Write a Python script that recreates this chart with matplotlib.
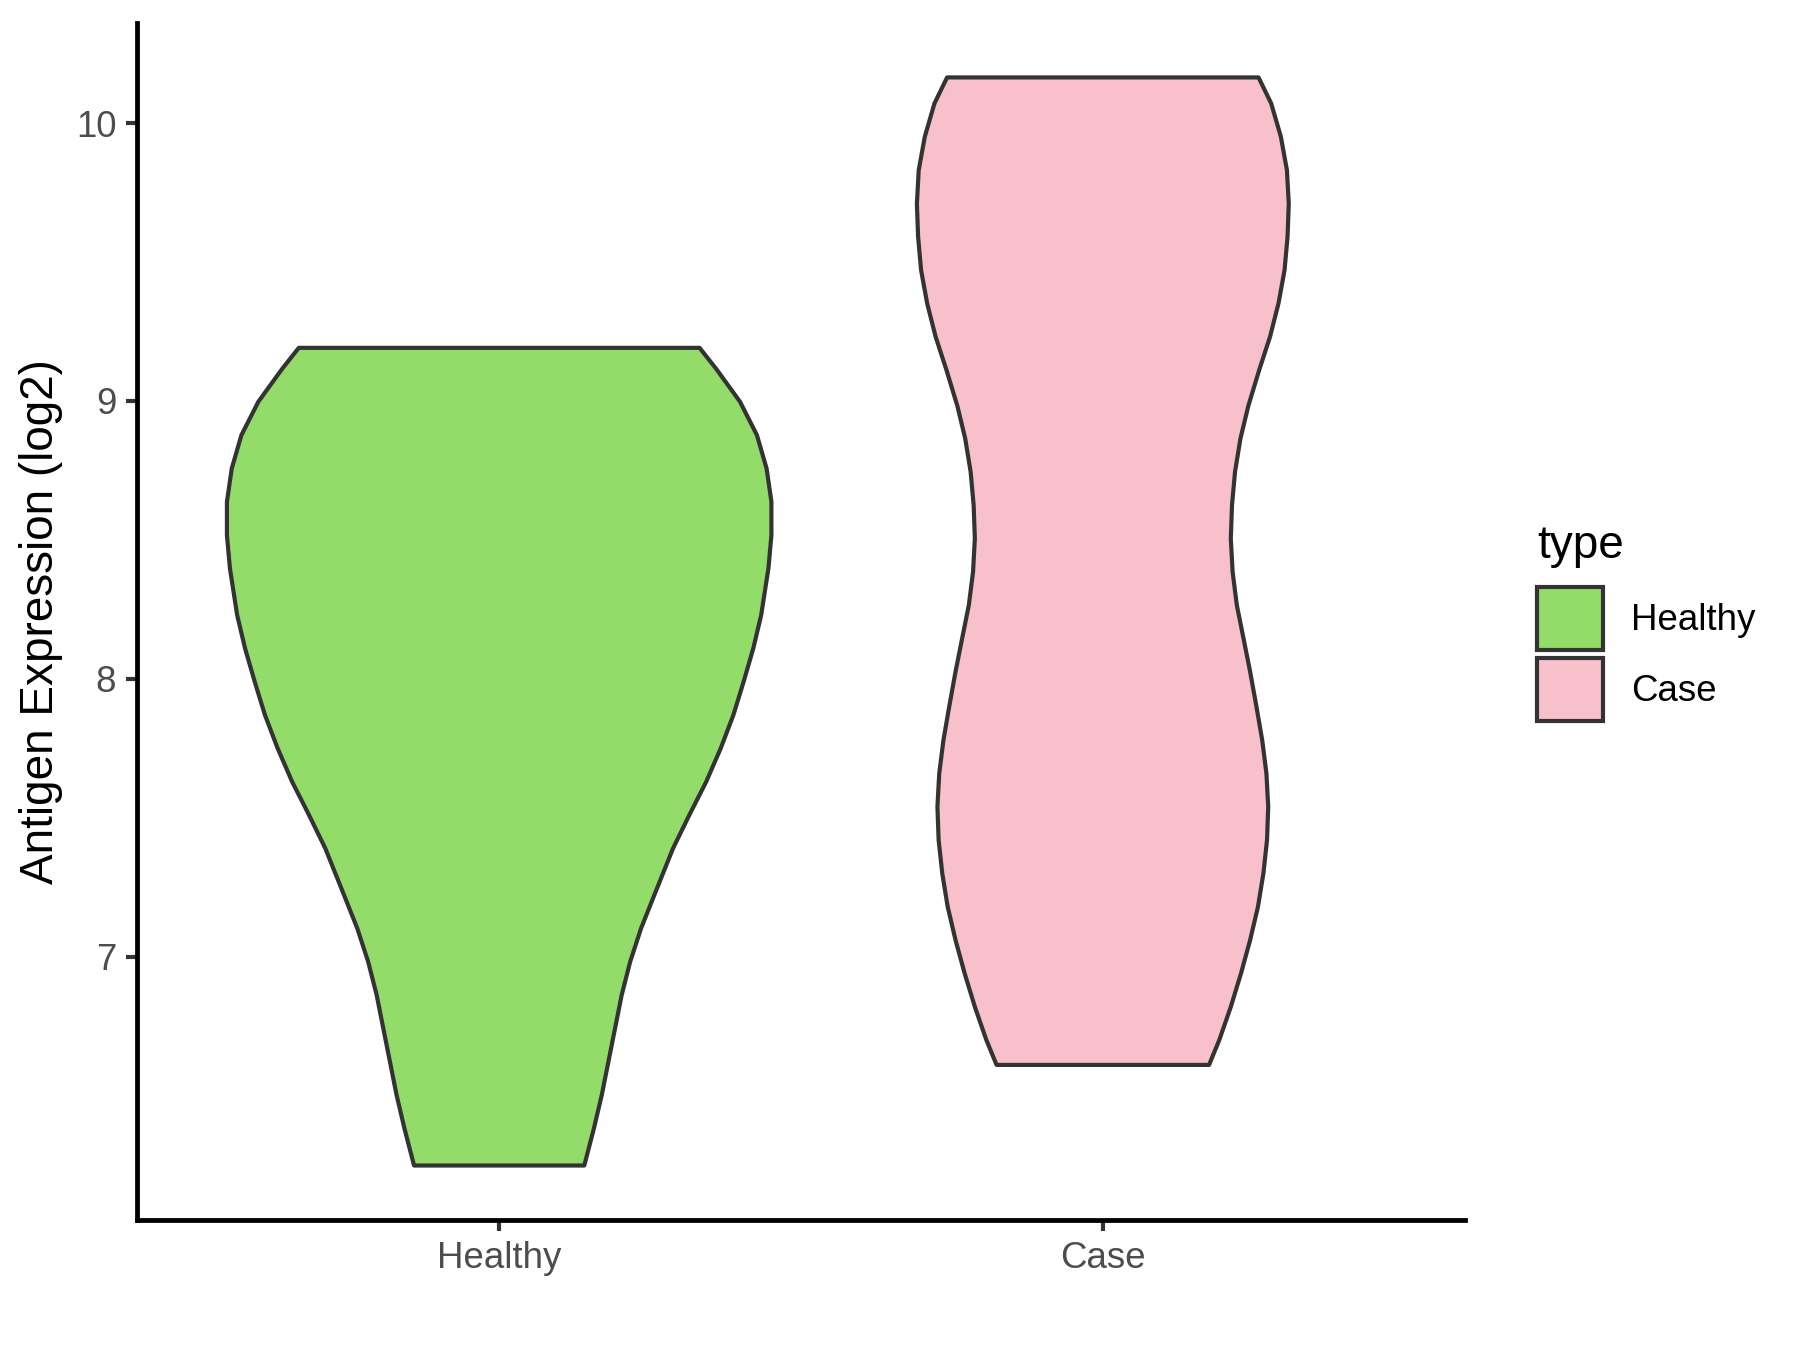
import numpy as np
import matplotlib
matplotlib.use("Agg")
import matplotlib.pyplot as plt
from matplotlib.patches import Patch

plt.rcParams['font.family'] = ['Liberation Sans', 'DejaVu Sans']

# categories and colours
groups = ['Healthy', 'Case']
fills = ['#93DC6A', '#F7C0CB']

# violin outlines: expression level and half-width (x units)
healthy_y = [6.249, 6.383, 6.503, 6.623, 6.743, 6.863, 6.982, 7.102, 7.222,
             7.390, 7.510, 7.630, 7.750, 7.870, 7.990, 8.110, 8.229, 8.397,
             8.517, 8.637, 8.757, 8.877, 8.997, 9.117, 9.191]
healthy_hw = [0.141, 0.157, 0.170, 0.181, 0.192, 0.203, 0.217, 0.235, 0.257,
              0.288, 0.315, 0.343, 0.367, 0.388, 0.405, 0.421, 0.434, 0.446,
              0.451, 0.451, 0.443, 0.427, 0.399, 0.359, 0.332]

case_y = [6.611, 6.701, 6.820, 6.941, 7.060, 7.180, 7.300, 7.420, 7.540, 7.660,
          7.780, 7.906, 8.026, 8.146, 8.265, 8.385, 8.505, 8.625, 8.745, 8.865,
          8.982, 9.111, 9.231, 9.351, 9.470, 9.590, 9.710, 9.830, 9.950, 10.070,
          10.164]
case_hw = [0.176, 0.193, 0.212, 0.229, 0.244, 0.257, 0.266, 0.272, 0.274, 0.271,
           0.264, 0.254, 0.244, 0.233, 0.222, 0.215, 0.212, 0.214, 0.219, 0.228,
           0.241, 0.259, 0.277, 0.291, 0.301, 0.306, 0.308, 0.305, 0.295, 0.279,
           0.258]

y_ticks = [7, 8, 9, 10]

fig = plt.figure(figsize=(6, 4.5), dpi=300)
ax = fig.add_axes([0.0761, 0.0963, 0.7378, 0.8867])

profiles = [(healthy_y, healthy_hw), (case_y, case_hw)]
for i, (ys, hws) in enumerate(profiles):
    pos = i + 1
    ys = np.asarray(ys)
    hws = np.asarray(hws)
    xs = np.concatenate([pos - hws, (pos + hws)[::-1]])
    yy = np.concatenate([ys, ys[::-1]])
    ax.fill(xs, yy, facecolor=fills[i], edgecolor='#333333', linewidth=1.0,
            joinstyle='round', zorder=2)

ax.set_xlim(0.4, 2.6)
ax.set_ylim(6.053, 10.36)
ax.set_xticks([1, 2])
ax.set_xticklabels(groups)
ax.set_yticks(y_ticks)
ax.set_yticklabels([str(t) for t in y_ticks])

for side in ['top', 'right']:
    ax.spines[side].set_visible(False)
for side in ['left', 'bottom']:
    ax.spines[side].set_linewidth(1.15)
    ax.spines[side].set_color('black')
ax.tick_params(axis='both', length=2.75, width=1.0, color='#333333',
               labelsize=8.8, labelcolor='#4D4D4D', pad=2.2)

ax.set_ylabel('Antigen Expression (log2)', fontsize=11, color='black', labelpad=3)

handles = [Patch(facecolor=fills[i], edgecolor='#333333', linewidth=1.0, label=g)
           for i, g in enumerate(groups)]
leg = fig.legend(handles=handles, title='type', loc='upper left',
                 bbox_to_anchor=(0.854, 0.612), frameon=False,
                 fontsize=8.8, title_fontsize=11, handlelength=1.8,
                 handleheight=2.3, labelspacing=0.2, handletextpad=0.75,
                 borderaxespad=0, borderpad=0)
leg._legend_box.align = 'left'
leg._legend_box.sep = 4.5

fig.savefig('out.png', dpi=300)
